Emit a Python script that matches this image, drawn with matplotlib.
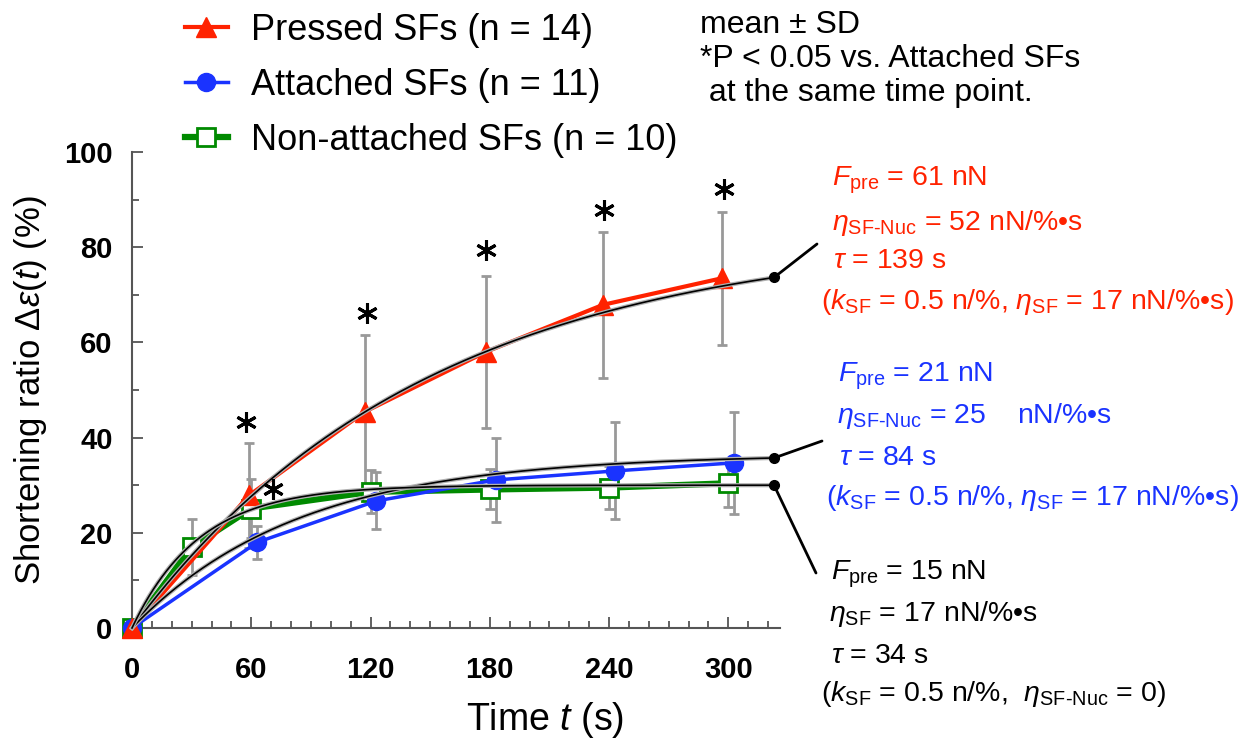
import numpy as np
import matplotlib
matplotlib.use('Agg')
import matplotlib.pyplot as plt
import matplotlib.patheffects as pe

plt.rcParams['font.family'] = ['Liberation Sans', 'DejaVu Sans']
plt.rcParams['mathtext.fontset'] = 'custom'
plt.rcParams['mathtext.rm'] = 'Liberation Sans'
plt.rcParams['mathtext.it'] = 'Liberation Sans:italic'
plt.rcParams['mathtext.bf'] = 'Liberation Sans:bold'

# data (time in s, shortening ratio in %)
pressed_t = [0, 59, 117, 178, 237, 297]
pressed_y = [0, 27.9, 45.4, 58.0, 67.9, 73.5]
pressed_sd = [0, 11.0, 16.2, 15.9, 15.3, 14.0]

attached_t = [0, 63, 123, 183, 243, 303]
attached_y = [0, 18.0, 26.7, 31.1, 33.0, 34.7]
attached_sd = [0, 3.4, 6.0, 8.9, 10.2, 10.7]

nonatt_t = [0, 30, 60, 120, 180, 240, 300]
nonatt_y = [0, 17.0, 25.1, 28.6, 29.1, 29.5, 30.4]
nonatt_sd = [0, 5.8, 6.2, 4.5, 4.2, 4.6, 5.0]

# model curves: amplitude and time constant of each fit
fit_amp = [83.0, 36.5, 30.0]
fit_tau = [148.0, 84.0, 34.0]
fit_end = 323

# significance marks
star_t = [57.5, 71, 118, 178, 237.5, 298]
star_y = [43.3, 29.3, 66.2, 79.4, 87.8, 92.2]

red = '#ff2200'
blue = '#1a33ff'
green = '#008a00'

W, H = 1259, 748
fig = plt.figure(figsize=(W / 100, H / 100), dpi=100)
ax = fig.add_axes([132 / W, 1 - 628 / H, (780 - 132) / W, (628 - 152) / H])

# error bars
ebk = dict(fmt='none', ecolor='#999999', elinewidth=2, capsize=3.5, capthick=2, zorder=2)
ax.errorbar(pressed_t[1:], pressed_y[1:], yerr=pressed_sd[1:], **ebk)
ax.errorbar(attached_t[1:], attached_y[1:], yerr=attached_sd[1:], **ebk)
ax.errorbar(nonatt_t[1:], nonatt_y[1:], yerr=nonatt_sd[1:], **ebk)

# data lines
ax.plot(nonatt_t, nonatt_y, color=green, lw=4.5, marker='s', ms=12.5, mfc='white',
        mec=green, mew=2, zorder=4, clip_on=False, label='Non-attached SFs (n = 10)')
ax.plot(attached_t, attached_y, color=blue, lw=2.5, marker='o', ms=13, mfc=blue,
        mec=blue, zorder=5, clip_on=False, label='Attached SFs (n = 11)')
ax.plot(pressed_t, pressed_y, color=red, lw=3, marker='^', ms=14.5, mfc=red,
        mec=red, zorder=6, clip_on=False, label='Pressed SFs (n = 14)')

# fit curves
tt = np.linspace(0, fit_end, 300)
for a, tau in zip(fit_amp, fit_tau):
    yy = a * (1 - np.exp(-tt / tau))
    ax.plot(tt, yy, color='black', lw=1.2, zorder=7, clip_on=False,
            path_effects=[pe.Stroke(linewidth=3, foreground='#b0b0b0'), pe.Normal()])
    ax.plot([fit_end], [yy[-1]], 'o', color='black', ms=7, zorder=8, clip_on=False)

# pointer lines to the annotations (figure pixel targets)
targets = [(817, 244), (822, 441), (816, 573)]
for a, tau, (px, py) in zip(fit_amp, fit_tau, targets):
    yend = a * (1 - np.exp(-fit_end / tau))
    ax.annotate('', xy=(fit_end, yend), xycoords='data',
                xytext=(px / W, 1 - py / H), textcoords='figure fraction',
                arrowprops=dict(arrowstyle='-', color='black', lw=2,
                                shrinkA=0, shrinkB=0), zorder=8)

ax.plot(star_t, star_y, linestyle='none', marker=(6, 2, 0), ms=15, mew=2.2,
        color='black', zorder=9)

ax.set_xlim(0, 326)
ax.set_ylim(0, 100)
ax.set_xticks([0, 60, 120, 180, 240, 300])
ax.set_xticks(np.arange(0, 330, 10), minor=True)
ax.set_yticks([0, 20, 40, 60, 80, 100])
ax.set_yticks(np.arange(0, 101, 10), minor=True)
for s in ['top', 'right']:
    ax.spines[s].set_visible(False)
for s in ['left', 'bottom']:
    ax.spines[s].set_color('#555555')
    ax.spines[s].set_linewidth(1.5)
ax.tick_params(which='both', direction='in', color='#555555', width=1.3)
ax.tick_params(which='major', length=8)
ax.tick_params(which='minor', length=5)
ax.tick_params(axis='x', pad=20)
ax.tick_params(axis='y', pad=14)
for lab in ax.get_xticklabels() + ax.get_yticklabels():
    lab.set_fontsize(21)
    lab.set_fontweight('bold')

ax.set_ylabel(r'Shortening ratio $\Delta\varepsilon(t)$ (%)', fontsize=25, va='center')
ax.yaxis.set_label_coords(-0.157, 0.5)
ax.set_xlabel(r'Time $t$ (s)', fontsize=27, va='center')
ax.xaxis.set_label_coords(0.637, -0.193)

handles, labels = ax.get_legend_handles_labels()
fig.legend(handles[::-1], labels[::-1], loc='upper left', bbox_to_anchor=(163 / W, 1.012),
           frameon=False, fontsize=26, handlelength=1.2, labelspacing=0.56,
           handletextpad=0.65, borderaxespad=0.2)

# notes at top right
notes = ['mean \u00b1 SD', '*P < 0.05 vs. Attached SFs', ' at the same time point.']
for txt, by in zip(notes, [33, 67, 101]):
    fig.text(700 / W, 1 - by / H, txt, fontsize=23, va='baseline', ha='left')

# model parameter annotations
ann_red = [r'$F_{\mathrm{pre}}$ = 61 nN',
           r'$\eta_{\mathrm{SF\text{-}Nuc}}$ = 52 nN/%•s',
           r'$\tau$ = 139 s',
           r'($k_{\mathrm{SF}}$ = 0.5 n/%, $\eta_{\mathrm{SF}}$ = 17 nN/%•s)']
ann_blue = [r'$F_{\mathrm{pre}}$ = 21 nN',
            r'$\eta_{\mathrm{SF\text{-}Nuc}}$ = 25    nN/%•s',
            r'$\tau$ = 84 s',
            r'($k_{\mathrm{SF}}$ = 0.5 n/%, $\eta_{\mathrm{SF}}$ = 17 nN/%•s)']
ann_black = [r'$F_{\mathrm{pre}}$ = 15 nN',
             r'$\eta_{\mathrm{SF}}$ = 17 nN/%•s',
             r'$\tau$ = 34 s',
             r'($k_{\mathrm{SF}}$ = 0.5 n/%,  $\eta_{\mathrm{SF\text{-}Nuc}}$ = 0)']
blocks = [(ann_red, red, [832, 832, 833, 821], [186, 230, 268, 309]),
          (ann_blue, blue, [838, 837, 839, 826], [381, 423, 465, 505]),
          (ann_black, 'black', [831, 829, 831, 821], [580, 621, 663, 701])]
for lines, col, xs, ys in blocks:
    for txt, x, y in zip(lines, xs, ys):
        fig.text(x / W, 1 - y / H, txt, fontsize=20.5, color=col, va='baseline', ha='left')

fig.savefig('out.png', dpi=100)
